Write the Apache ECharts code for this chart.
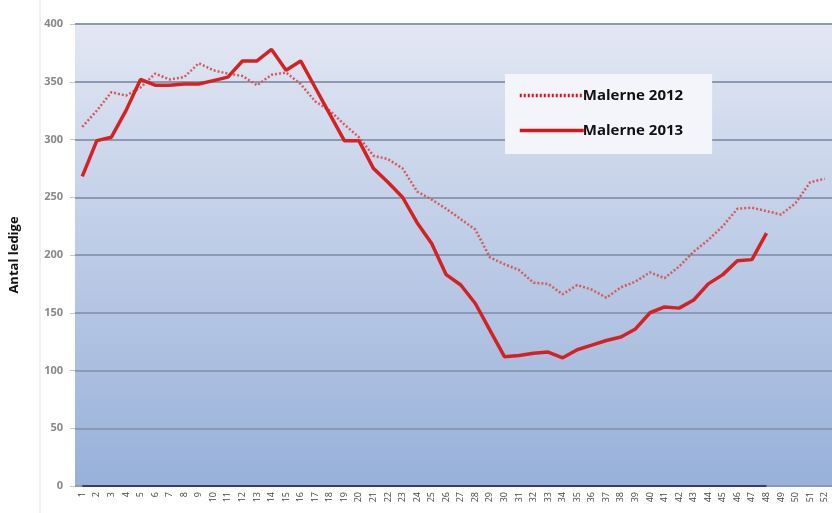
<!DOCTYPE html>
<html lang="da">
<head>
  <meta charset="UTF-8">
  <title>Antal ledige malere</title>
  <script src="https://cdn.jsdelivr.net/npm/echarts@6/dist/echarts.min.js"></script>
  <style>
    html, body { margin: 0; padding: 0; background: #fff; }
    #main { width: 832px; height: 513px; }
  </style>
</head>
<body>
  <div id="main"></div>
  <script>
    // uger 1-52
    const weeks = []
    for (let i = 1; i <= 52; i++) weeks.push(String(i))

    const yTicks = [0, 50, 100, 150, 200, 250, 300, 350, 400]

    const malerne2012 = [311, 325, 341, 338, 345, 357, 352, 354, 366, 360,
      357, 355, 347, 356, 358, 348, 333, 325, 313, 302,
      286, 283, 275, 255, 248, 240, 231, 222, 198, 192,
      187, 176, 175, 166, 174, 170, 163, 172, 177, 185,
      180, 190, 203, 213, 225, 240, 241, 238, 235, 245,
      263, 266]

    const malerne2013 = [268, 299, 302, 325, 352, 347, 347, 348, 348, 351,
      354, 368, 368, 378, 360, 368, 345, 322, 299, 299,
      275, 263, 250, 228, 210, 183, 174, 158, 135, 112,
      113, 115, 116, 111, 118, 122, 126, 129, 136, 150,
      155, 154, 161, 175, 183, 195, 196, 219]

    // nul-linjen der løber til uge 48
    const nulLinje = malerne2013.map(() => 0)

    const myChart = echarts.init(document.getElementById('main'))

    const option = {
      animation: false,
      textStyle: { fontFamily: 'Open Sans, DejaVu Sans, sans-serif' },
      graphic: [
        {
          type: 'line',
          shape: { x1: 40, y1: 0, x2: 40, y2: 513 },
          style: { stroke: '#e4e4e4', lineWidth: 1 }
        }
      ],
      grid: {
        left: 75,
        top: 24,
        width: 764,
        height: 462,
        show: true,
        borderWidth: 0,
        backgroundColor: new echarts.graphic.LinearGradient(0, 0, 0, 1, [
          { offset: 0, color: '#e2e7f3' },
          { offset: 0.5, color: '#bccbe6' },
          { offset: 1, color: '#98b1d9' }
        ])
      },
      legend: {
        orient: 'vertical',
        left: 505,
        top: 74,
        padding: [14, 29, 16, 13],
        itemGap: 20,
        itemWidth: 64,
        itemHeight: 14,
        backgroundColor: '#f3f5fb',
        itemStyle: { color: 'rgba(0,0,0,0)', borderWidth: 0 },
        lineStyle: { width: 3.5, color: '#d6141c' },
        textStyle: { color: '#111', fontSize: 15, fontWeight: 'bold', padding: [0, 0, 0, -6] },
        data: ['Malerne 2012', 'Malerne 2013']
      },
      xAxis: {
        type: 'category',
        data: weeks,
        boundaryGap: true,
        axisLine: { show: false },
        axisTick: { show: false },
        axisLabel: {
          interval: 0,
          rotate: 90,
          fontSize: 9,
          color: '#444',
          margin: 6
        }
      },
      yAxis: {
        type: 'value',
        min: yTicks[0],
        max: yTicks[yTicks.length - 1],
        interval: 50,
        name: 'Antal ledige',
        nameLocation: 'middle',
        nameGap: 54,
        nameTextStyle: { fontSize: 13, fontWeight: 'bold', color: '#111' },
        axisLine: { show: false },
        axisTick: { show: true, length: 5, lineStyle: { color: '#c8c8c8' } },
        axisLabel: { fontSize: 11, color: '#888', fontWeight: 'bold', margin: 12 },
        splitLine: { lineStyle: { color: '#8a99b4', width: 2 } }
      },
      series: [
        {
          name: 'Malerne 2012',
          type: 'line',
          data: malerne2012,
          showSymbol: false,
          symbol: 'none',
          color: '#d9534f',
          lineStyle: { color: '#d65a5a', width: 2.5, type: [2, 2] },
          z: 3
        },
        {
          name: 'Malerne 2013',
          type: 'line',
          data: malerne2013,
          showSymbol: false,
          symbol: 'none',
          color: '#d41e1e',
          lineStyle: { color: '#d42222', width: 3.5 },
          z: 4
        },
        {
          name: 'nul',
          type: 'line',
          data: nulLinje,
          showSymbol: false,
          symbol: 'none',
          lineStyle: { color: '#3b3970', width: 2 },
          z: 2
        }
      ]
    }

    myChart.setOption(option)
  </script>
</body>
</html>
